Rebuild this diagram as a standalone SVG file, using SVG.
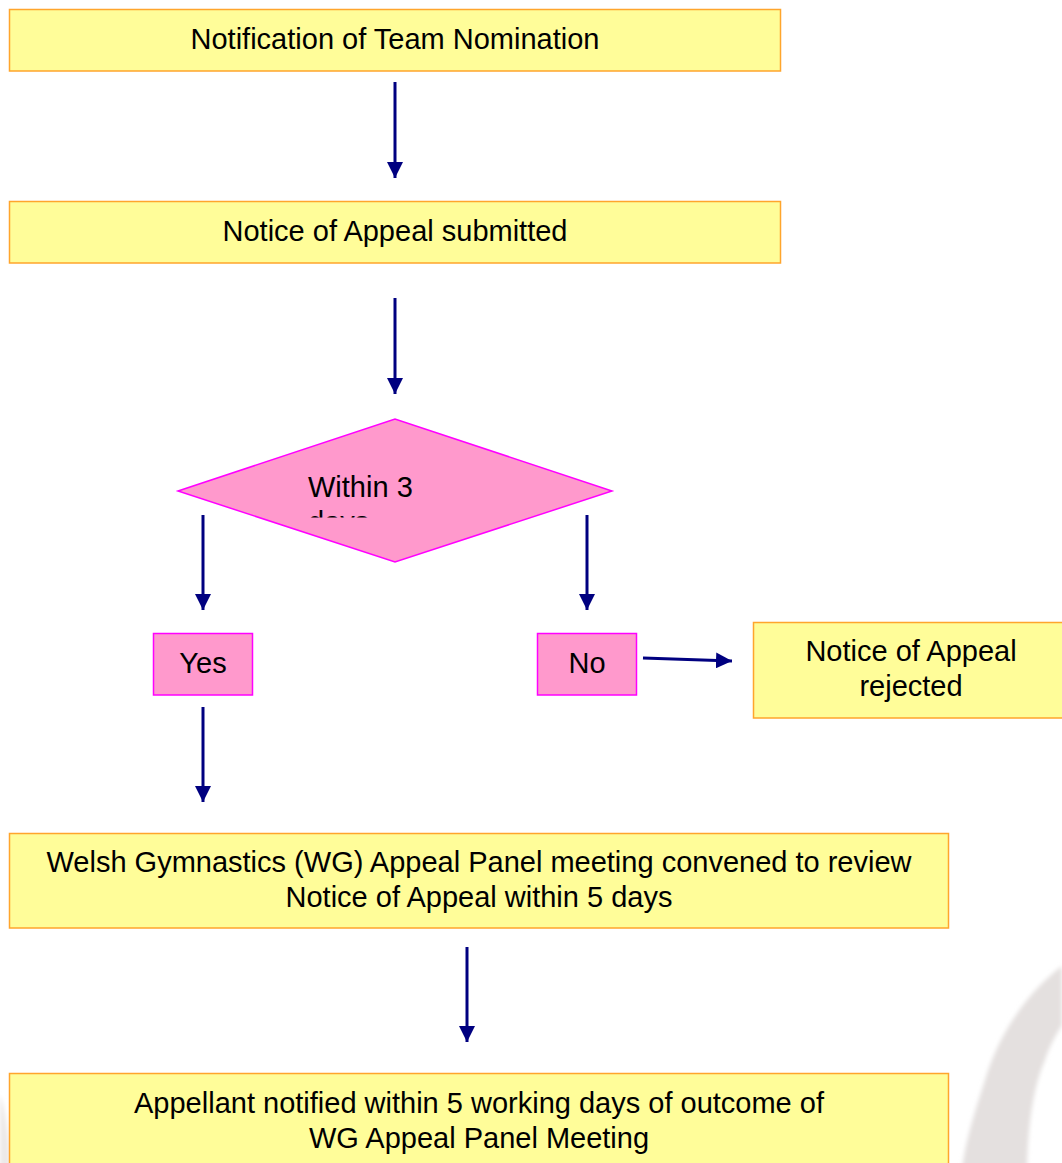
<svg xmlns="http://www.w3.org/2000/svg" width="1062" height="1163" viewBox="0 0 1062 1163">
<style>
.box{fill:#FFFD99;stroke:#FFA52C;stroke-width:1.5}
.pink{fill:#FF99CC;stroke:#FF00FF;stroke-width:1.5}
.t{font-family:"Liberation Sans","DejaVu Sans",sans-serif;font-size:29px;fill:#000;text-anchor:middle}
.c{stroke:#000080;stroke-width:3;fill:none;marker-end:url(#ah)}
</style>
<defs>
<marker id="ah" viewBox="0 0 10 10" refX="10" refY="5" markerUnits="userSpaceOnUse" markerWidth="16" markerHeight="16" orient="auto">
<path d="M0,0 L10,5 L0,10 z" fill="#000080"/>
</marker>
<clipPath id="dclip"><rect x="170" y="410" width="460" height="107.5"/></clipPath>
<filter id="blur"><feGaussianBlur stdDeviation="2"/></filter>
</defs>
<rect width="1062" height="1163" fill="#fff"/>
<g id="watermark" filter="url(#blur)">
<path d="M1062,966 C1030,990 1000,1030 985,1080 C972,1120 965,1145 962,1170 L1027,1170 C1028,1130 1032,1090 1045,1060 C1050,1045 1056,1035 1062,1025 Z" fill="#E4E0DF"/>
<path d="M0,1095 C6,1110 9,1140 10,1170 L0,1170 Z" fill="#ECE8E7"/>
</g>
<g id="connectors">
<line class="c" x1="395" y1="82" x2="395" y2="178"/>
<line class="c" x1="395" y1="298" x2="395" y2="394"/>
<line class="c" x1="203" y1="515" x2="203" y2="610"/>
<line class="c" x1="587" y1="515" x2="587" y2="610"/>
<line class="c" x1="643" y1="658" x2="732" y2="661"/>
<line class="c" x1="203" y1="707" x2="203" y2="802"/>
<line class="c" x1="467" y1="947" x2="467" y2="1042"/>
</g>
<g id="n1">
<rect class="box" x="9.5" y="9.5" width="771" height="61.5"/>
<text class="t" x="395" y="49">Notification of Team Nomination</text>
</g>
<g id="n2">
<rect class="box" x="9.5" y="201.5" width="771" height="61.5"/>
<text class="t" x="395" y="241">Notice of Appeal submitted</text>
</g>
<g id="n3">
<polygon class="pink" points="178,491 395,419 612,491 395,562"/>
<g clip-path="url(#dclip)">
<text class="t" x="308" y="497" style="text-anchor:start">Within 3</text>
<text class="t" x="308" y="532" style="text-anchor:start">days</text>
</g>
</g>
<g id="n4">
<rect class="pink" x="153.5" y="633.5" width="99" height="61.5"/>
<text class="t" x="203" y="673">Yes</text>
</g>
<g id="n5">
<rect class="pink" x="537.5" y="633.5" width="99" height="61.5"/>
<text class="t" x="587" y="673">No</text>
</g>
<g id="n6">
<rect class="box" x="753.5" y="622.5" width="320" height="95.5"/>
<text class="t" x="911" y="661">Notice of Appeal</text>
<text class="t" x="911" y="696">rejected</text>
</g>
<g id="n7">
<rect class="box" x="9.5" y="833.5" width="939" height="94.5"/>
<text class="t" x="479" y="872">Welsh Gymnastics (WG) Appeal Panel meeting convened to review</text>
<text class="t" x="479" y="907">Notice of Appeal within 5 days</text>
</g>
<g id="n8">
<rect class="box" x="9.5" y="1073.5" width="939" height="100"/>
<text class="t" x="479" y="1113">Appellant notified within 5 working days of outcome of</text>
<text class="t" x="479" y="1148">WG Appeal Panel Meeting</text>
</g>
</svg>
